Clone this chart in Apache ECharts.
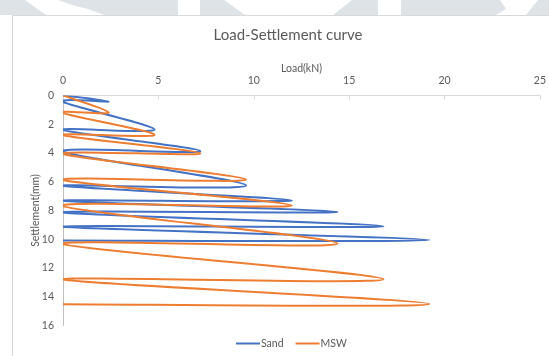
<!DOCTYPE html>
<html>
<head>
<meta charset="utf-8">
<script src="https://cdn.jsdelivr.net/npm/echarts@6/dist/echarts.min.js"></script>
<style>
  html, body { margin: 0; padding: 0; background: #fff; }
  #chart { width: 549px; height: 356px; }
</style>
</head>
<body>
<div id="chart"></div>
<script>
// Load-unload cycles: load (kN) against settlement (mm)
const sandLoad   = [0, 2.4, 0, 4.8, 0, 7.2, 0, 9.6, 0, 12, 0, 14.4, 0, 16.8, 0, 19.2, 0];
const sandSettle = [0, 0.42, 0.45, 2.37, 2.40, 3.87, 3.90, 6.26, 6.28, 7.30, 7.32, 8.10, 8.13, 9.10, 9.13, 10.05, 10.08];
const mswLoad    = [0, 2.4, 0, 4.8, 0, 7.2, 0, 9.6, 0, 12, 0, 14.4, 0, 16.8, 0, 19.2, 0];
const mswSettle  = [0, 1.19, 1.21, 2.74, 2.76, 4.03, 4.06, 5.85, 5.87, 7.65, 7.68, 10.30, 10.33, 12.78, 12.80, 14.50, 14.52];
const seriesNames = ['Sand', 'MSW'];
const seriesColors = ['#4472C4', '#ED7D31'];

const FONT = 'Lato, "Open Sans", sans-serif';
const GREY_TEXT = '#595959';
const SHADE = '#dde3e6';

function zip(xs, ys) { return xs.map((x, i) => [x, ys[i]]); }

// Smooth scatter line: cubic Bezier through every point, tangent at each
// point parallel to (next - prev), as spreadsheet "smoothed lines" do.
function smoothPath(pts) {
  const n = pts.length;
  const T = 1 / 6;
  let d = 'M' + pts[0][0] + ' ' + pts[0][1];
  for (let i = 0; i < n - 1; i++) {
    const p0 = pts[Math.max(i - 1, 0)];
    const p1 = pts[i];
    const p2 = pts[i + 1];
    const p3 = pts[Math.min(i + 2, n - 1)];
    const seg = Math.hypot(p2[0] - p1[0], p2[1] - p1[1]);
    let ax = (p2[0] - p0[0]) * T, ay = (p2[1] - p0[1]) * T;
    let bx = (p3[0] - p1[0]) * T, by = (p3[1] - p1[1]) * T;
    const la = Math.hypot(ax, ay), lb = Math.hypot(bx, by);
    if (la > seg / 2) { ax *= seg / 2 / la; ay *= seg / 2 / la; }
    if (lb > seg / 2) { bx *= seg / 2 / lb; by *= seg / 2 / lb; }
    d += ' C' + (p1[0] + ax) + ' ' + (p1[1] + ay) + ' ' +
         (p2[0] - bx) + ' ' + (p2[1] - by) + ' ' + p2[0] + ' ' + p2[1];
  }
  return d;
}

function curveSeries(name, color, loads, settles) {
  return {
    name: name,
    type: 'custom',
    coordinateSystem: 'cartesian2d',
    clip: true,
    data: zip(loads, settles),
    itemStyle: { color: color },
    encode: { x: 0, y: 1 },
    renderItem: function (params, api) {
      if (params.dataIndex !== 0) return null;
      const pts = loads.map((x, i) => api.coord([x, settles[i]]));
      return {
        type: 'path',
        shape: { pathData: smoothPath(pts) },
        style: { fill: 'none', stroke: color, lineWidth: 2, lineJoin: 'round', lineCap: 'round' }
      };
    }
  };
}

const chart = echarts.init(document.getElementById('chart'), null, { renderer: 'canvas' });

chart.setOption({
  backgroundColor: '#ffffff',
  animation: false,
  textStyle: { fontFamily: FONT },
  graphic: [
    // decorative shaded band along the top edge
    { type: 'polygon', z: -5, shape: { points: [[0,0],[25,0],[46,15],[0,15]] }, style: { fill: SHADE } },
    { type: 'polygon', z: -5, shape: { points: [[58,0],[178,0],[178,15],[104,15],[88,9],[72,5]] }, style: { fill: SHADE } },
    { type: 'polygon', z: -5, shape: { points: [[200,0],[224,0],[245,15],[200,15]] }, style: { fill: SHADE } },
    { type: 'polygon', z: -5, shape: { points: [[352,0],[378,0],[378,15],[333,15]] }, style: { fill: SHADE } },
    { type: 'polygon', z: -5, shape: { points: [[401,0],[500,0],[506,9],[496,15],[401,15]] }, style: { fill: SHADE } },
    { type: 'polygon', z: -5, shape: { points: [[538,0],[549,0],[549,15],[526,15]] }, style: { fill: SHADE } },
    // chart frame
    { type: 'rect', z: -4, shape: { x: 12.5, y: 15.5, width: 560, height: 360 },
      style: { fill: '#ffffff', stroke: '#d9d9d9', lineWidth: 1 } }
  ],
  title: {
    text: 'Load-Settlement curve',
    left: 283,
    textAlign: 'center',
    top: 23,
    textStyle: { fontFamily: FONT, fontSize: 15, fontWeight: 'normal', color: GREY_TEXT }
  },
  legend: {
    data: seriesNames.map((n, i) => ({ name: n, icon: 'rect', itemStyle: { color: seriesColors[i] } })),
    bottom: 2,
    left: 231,
    itemWidth: 24,
    itemHeight: 2,
    itemGap: 12,
    textStyle: { fontFamily: FONT, fontSize: 10.5, color: GREY_TEXT, padding: [0, 0, 0, -4] }
  },
  grid: { left: 63, right: 6, top: 95.5, bottom: 30.5, containLabel: false },
  xAxis: {
    type: 'value',
    position: 'top',
    min: 0, max: 25, interval: 5,
    name: 'Load(kN)',
    nameLocation: 'middle',
    nameGap: 21,
    nameMoveOverlap: false,
    nameTextStyle: { fontFamily: FONT, fontSize: 10.5, color: GREY_TEXT },
    axisLine: { show: true, lineStyle: { color: '#d9d9d9', width: 1 } },
    axisTick: { show: true, inside: true, length: 4, lineStyle: { color: '#d9d9d9' } },
    axisLabel: { fontFamily: FONT, fontSize: 10.5, color: GREY_TEXT, margin: 9 },
    splitLine: { show: false }
  },
  yAxis: {
    type: 'value',
    inverse: true,
    min: 0, max: 16, interval: 2,
    name: 'Settlement(mm)',
    nameLocation: 'middle',
    nameGap: 22,
    nameMoveOverlap: false,
    nameTextStyle: { fontFamily: FONT, fontSize: 10.5, color: GREY_TEXT },
    axisLine: { show: true, lineStyle: { color: '#bfbfbf', width: 1 } },
    axisTick: { show: false },
    axisLabel: { fontFamily: FONT, fontSize: 10.5, color: GREY_TEXT, margin: 9 },
    splitLine: { show: false }
  },
  series: [
    curveSeries(seriesNames[0], seriesColors[0], sandLoad, sandSettle),
    curveSeries(seriesNames[1], seriesColors[1], mswLoad, mswSettle)
  ]
});
</script>
</body>
</html>
